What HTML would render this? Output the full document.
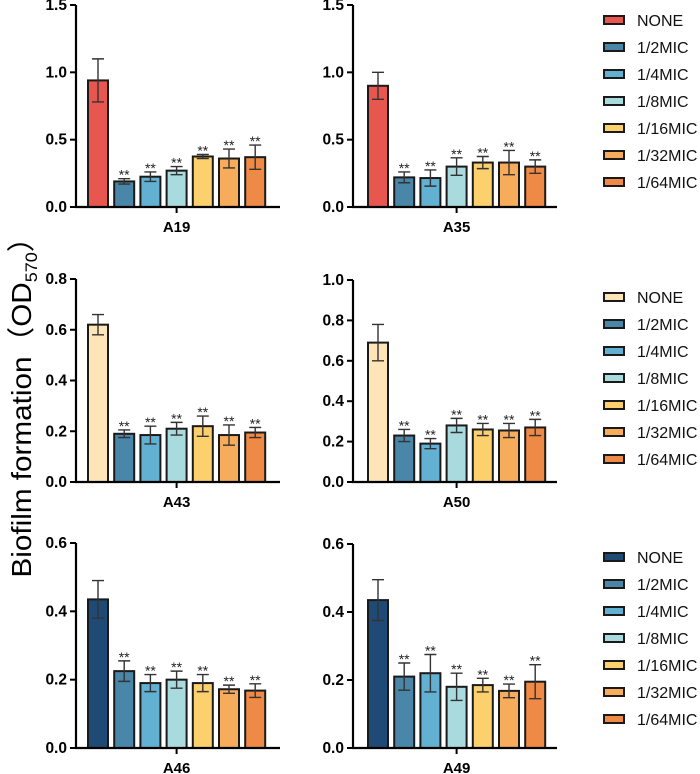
<!DOCTYPE html>
<html><head><meta charset="utf-8"><style>
html,body{margin:0;padding:0;background:#fff;}
svg{display:block;font-family:"Liberation Sans","Noto Sans CJK SC",sans-serif;}
</style></head><body>
<svg id="chart" width="700" height="774" viewBox="0 0 700 774" xmlns="http://www.w3.org/2000/svg">
<text transform="translate(31,400) rotate(-90)" text-anchor="middle" font-size="28" textLength="355" lengthAdjust="spacingAndGlyphs" fill="#000">Biofilm formation（OD<tspan font-size="17" dy="6">570</tspan><tspan dy="-6">）</tspan></text>
</svg>
<script>
const groups = ["A19","A35","A43","A50","A46","A49"];
const seriesNames = ["NONE","1/2MIC","1/4MIC","1/8MIC","1/16MIC","1/32MIC","1/64MIC"];
const valsA19 = [0.94,0.19,0.225,0.27,0.375,0.36,0.37];
const errA19  = [0.16,0.02,0.035,0.03,0.015,0.07,0.09];
const valsA35 = [0.90,0.22,0.215,0.30,0.33,0.33,0.30];
const errA35  = [0.10,0.04,0.06,0.065,0.045,0.09,0.05];
const valsA43 = [0.62,0.19,0.185,0.21,0.22,0.185,0.195];
const errA43  = [0.04,0.015,0.035,0.025,0.04,0.04,0.02];
const valsA50 = [0.69,0.23,0.19,0.28,0.26,0.255,0.27];
const errA50  = [0.09,0.03,0.025,0.035,0.03,0.035,0.04];
const valsA46 = [0.435,0.225,0.19,0.20,0.19,0.172,0.168];
const errA46  = [0.055,0.03,0.025,0.025,0.025,0.012,0.02];
const valsA49 = [0.435,0.21,0.22,0.18,0.185,0.168,0.195];
const errA49  = [0.06,0.04,0.055,0.04,0.02,0.02,0.05];
const ticksRow1 = [0,0.5,1.0,1.5];
const ticksA43 = [0,0.2,0.4,0.6,0.8];
const ticksA50 = [0,0.2,0.4,0.6,0.8,1.0];
const ticksRow3 = [0,0.2,0.4,0.6];
const sigLabels = ["","**","**","**","**","**","**"];

const NS="http://www.w3.org/2000/svg";
const svg=document.getElementById('chart');
function mk(tag,attrs,parent){const e=document.createElementNS(NS,tag);for(const k in attrs)e.setAttribute(k,attrs[k]);(parent||svg).appendChild(e);return e;}
const baseColors=["#e8574f","#4a86a8","#62b0d2","#a8dade","#fdd06e","#f6ac5a","#ee8a45"];
const rowNone=["#e8574f","#fde5b8","#1f4a75"];
const panels=[
 {name:groups[0],vals:valsA19,err:errA19,ticks:ticksRow1,ax:76,y0:207,yTop:5,row:0,off:12},
 {name:groups[1],vals:valsA35,err:errA35,ticks:ticksRow1,ax:353,y0:207,yTop:5,row:0,off:15},
 {name:groups[2],vals:valsA43,err:errA43,ticks:ticksA43,ax:76,y0:482,yTop:279,row:1,off:12},
 {name:groups[3],vals:valsA50,err:errA50,ticks:ticksA50,ax:353,y0:482,yTop:280,row:1,off:15},
 {name:groups[4],vals:valsA46,err:errA46,ticks:ticksRow3,ax:76,y0:748,yTop:543,row:2,off:12},
 {name:groups[5],vals:valsA49,err:errA49,ticks:ticksRow3,ax:353,y0:748,yTop:544,row:2,off:15}
];
panels.forEach(p=>{
 const g=mk('g',{});
 
 
 const maxV=p.ticks[p.ticks.length-1];
 const y=v=>p.y0-(v/maxV)*(p.y0-p.yTop);
 const step=26.2,bw=20;
 const x=i=>p.ax+p.off+i*step;
 const colors=baseColors.slice();colors[0]=rowNone[p.row];
 p.vals.forEach((v,i)=>{
  const r=mk('rect',{x:x(i),y:y(v),width:bw,height:p.y0-y(v),fill:colors[i],stroke:"#1a1a1a","stroke-width":2},g);
  
  
  const cx=x(i)+bw/2, e=p.err[i];
  const eb=mk('path',{d:`M${cx},${y(v+e)}V${y(v-e)}M${cx-6},${y(v+e)}H${cx+6}M${cx-6},${y(v-e)}H${cx+6}`,stroke:"#333","stroke-width":1.4,fill:"none"},g);
  
  
  if(sigLabels[i]){
   const t=mk('text',{x:cx,y:y(v+e)+1,"text-anchor":"middle","font-size":14,fill:"#222"},g);
   
   
   t.textContent=sigLabels[i];
  }
 });
 const axEnd=p.ax+204;
 const axl=mk('path',{d:`M${p.ax},${p.yTop}V${p.y0}H${axEnd}`,stroke:"#000","stroke-width":2.2,fill:"none"},g);
 
 
 const tc=x(3)+bw/2;
 mk('path',{d:`M${tc},${p.y0}v6`,stroke:"#000","stroke-width":2},g);
 const xl=mk('text',{x:tc,y:p.y0+25,"text-anchor":"middle","font-size":15,"font-weight":"bold",fill:"#000"},g);
 
 
 xl.textContent=p.name;
 p.ticks.forEach(t=>{
  mk('path',{d:`M${p.ax-6},${y(t)}H${p.ax}`,stroke:"#000","stroke-width":2},g);
  const tl=mk('text',{x:p.ax-9,y:y(t)+5,"text-anchor":"end","font-size":15.5,"font-weight":"bold",fill:"#000"},g);
  
  
  tl.textContent=t.toFixed(1);
 });
});
const legendTops=[20,297,557];
legendTops.forEach((top,r)=>{
 const lg=mk('g',{});
 
 
 seriesNames.forEach((n,i)=>{
  const yy=top+i*27;
  const c=i===0?rowNone[r]:baseColors[i];
  mk('rect',{x:604,y:yy-4,width:20,height:8,fill:c,stroke:"#1a1a1a","stroke-width":2},lg);
  const t=mk('text',{x:637,y:yy+6,"font-size":16,fill:"#111"},lg);
  
  
  t.textContent=n;
 });
});
</script>
</body></html>
